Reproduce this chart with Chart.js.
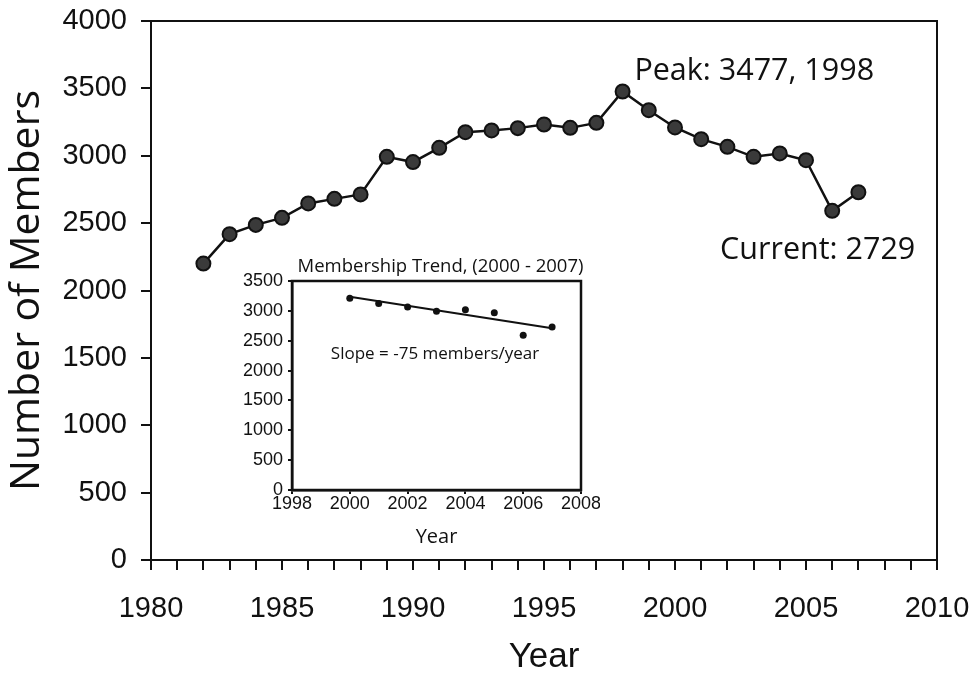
<!DOCTYPE html>
<html lang="en">
<head>
  <meta charset="UTF-8" />
  <title>Number of Members by Year</title>
  <script src="https://cdn.jsdelivr.net/npm/chart.js"></script>
  <style>
    body { margin: 0; background: #fff; }
    #wrap { position: relative; width: 974px; height: 674px; }
    #inset { position: absolute; left: 230px; top: 255px; }
  </style>
</head>
<body>
  <div id="wrap">
    <canvas id="mainChart" width="974" height="674"></canvas>
    <canvas id="inset" width="370" height="300"></canvas>
  </div>

  <script>
    // values
    const years = [1982, 1983, 1984, 1985, 1986, 1987, 1988, 1989, 1990, 1991, 1992, 1993, 1994,
                   1995, 1996, 1997, 1998, 1999, 2000, 2001, 2002, 2003, 2004, 2005, 2006, 2007];
    const members = [2200, 2418, 2487, 2539, 2646, 2680, 2713, 2992, 2953, 3059, 3175, 3188, 3205,
                     3232, 3207, 3244, 3477, 3338, 3210, 3123, 3066, 2992, 3017, 2967, 2591, 2729];

    const trendYears = [2000, 2001, 2002, 2003, 2004, 2005, 2006, 2007];
    const trendMembers = [3210, 3123, 3066, 2992, 3017, 2967, 2591, 2729];
    const fitYears = [2000, 2007];
    const fitMembers = [3235, 2710];

    const notes = [
      { text: 'Peak: 3477, 1998', x: 1998.45, y: 3628 },
      { text: 'Current: 2729', x: 2001.72, y: 2300 }
    ];

    const sans = '"Liberation Sans", Arial, sans-serif';
    const myriad = '"Open Sans", "Noto Sans", sans-serif';

    // box round the plot area + text notes
    const framePlugin = {
      id: 'frame',
      afterDraw(chart, args, opts) {
        const { ctx, chartArea: a, scales } = chart;
        ctx.save();
        ctx.strokeStyle = '#111';
        ctx.lineWidth = opts.width;
        ctx.strokeRect(a.left, a.top, a.right - a.left, a.bottom - a.top);
        ctx.fillStyle = '#111';
        ctx.textBaseline = 'middle';
        (opts.notes || []).forEach(n => {
          ctx.font = n.font;
          ctx.textAlign = n.align || 'left';
          ctx.fillText(n.text, scales.x.getPixelForValue(n.x), scales.y.getPixelForValue(n.y));
        });
        if (opts.title) {
          ctx.font = opts.titleFont;
          ctx.textAlign = 'center';
          ctx.fillText(opts.title, (a.left + a.right) / 2 + 4, a.top - 14);
        }
        ctx.restore();
      }
    };

    Chart.defaults.color = '#111';

    new Chart(document.getElementById('mainChart'), {
      type: 'line',
      data: {
        datasets: [{
          data: years.map((y, i) => ({ x: y, y: members[i] })),
          borderColor: '#111',
          borderWidth: 2.5,
          pointRadius: 7,
          pointBackgroundColor: '#3a3a3a',
          pointBorderColor: '#111',
          pointBorderWidth: 2,
          tension: 0
        }]
      },
      options: {
        responsive: false,
        animation: false,
        layout: { padding: { top: 21, right: 37, left: 0, bottom: 0 } },
        plugins: {
          legend: { display: false },
          tooltip: { enabled: false },
          frame: {
            width: 2,
            notes: notes.map(n => ({ ...n, font: '30.5px ' + myriad }))
          }
        },
        scales: {
          x: {
            type: 'linear',
            min: 1980,
            max: 2010,
            afterFit(s) { s.height = 114; s.paddingLeft = 0; s.paddingRight = 0; },
            ticks: {
              stepSize: 1,
              autoSkip: false,
              maxRotation: 0,
              padding: 22,
              font: { size: 29, family: sans },
              callback: v => (v % 5 === 0 ? String(v) : '')
            },
            grid: { drawOnChartArea: false, tickLength: 10, color: '#111', lineWidth: 2 },
            border: { color: '#111', width: 2 },
            title: { display: true, text: 'Year', font: { size: 35, family: sans }, padding: { top: 0, bottom: -4 } }
          },
          y: {
            min: 0,
            max: 4000,
            afterFit(s) { s.width = 151; s.paddingTop = 0; s.paddingBottom = 0; },
            ticks: {
              stepSize: 500,
              padding: 14,
              font: { size: 29, family: sans },
              callback: v => String(v)
            },
            grid: { drawOnChartArea: false, tickLength: 10, color: '#111', lineWidth: 2 },
            border: { color: '#111', width: 2 },
            title: { display: true, text: 'Number of Members', font: { size: 41, family: myriad }, padding: { top: 3, bottom: 0 } }
          }
        }
      },
      plugins: [framePlugin]
    });

    new Chart(document.getElementById('inset'), {
      type: 'line',
      data: {
        datasets: [{
          data: trendYears.map((y, i) => ({ x: y, y: trendMembers[i] })),
          showLine: false,
          pointRadius: 3.5,
          pointBackgroundColor: '#111',
          pointBorderWidth: 0
        }, {
          data: fitYears.map((y, i) => ({ x: y, y: fitMembers[i] })),
          borderColor: '#111',
          borderWidth: 2,
          pointRadius: 0
        }]
      },
      options: {
        responsive: false,
        animation: false,
        layout: { padding: { top: 26, right: 19, left: 0, bottom: 0 } },
        plugins: {
          legend: { display: false },
          tooltip: { enabled: false },
          frame: {
            width: 2.5,
            title: 'Membership Trend, (2000 - 2007)',
            titleFont: '18.5px ' + myriad,
            notes: [{ text: 'Slope = -75 members/year', x: 2002.95, y: 2280, align: 'center', font: '17px ' + myriad }]
          }
        },
        scales: {
          x: {
            type: 'linear',
            min: 1998,
            max: 2008,
            afterFit(s) { s.height = 65; s.paddingLeft = 0; s.paddingRight = 0; },
            ticks: {
              stepSize: 2,
              maxRotation: 0,
              padding: -1,
              font: { size: 18, family: sans },
              callback: v => String(v)
            },
            grid: { drawOnChartArea: false, tickLength: 4, color: '#111', lineWidth: 2 },
            border: { color: '#111', width: 2.5 },
            title: { display: true, text: 'Year', font: { size: 20, family: myriad }, padding: { top: 0, bottom: 6 } }
          },
          y: {
            min: 0,
            max: 3500,
            afterFit(s) { s.width = 62; s.paddingTop = 0; s.paddingBottom = 0; },
            ticks: {
              stepSize: 500,
              padding: 5,
              font: { size: 18, family: sans },
              callback: v => String(v)
            },
            grid: { drawOnChartArea: false, tickLength: 4, color: '#111', lineWidth: 2 },
            border: { color: '#111', width: 2.5 }
          }
        }
      },
      plugins: [framePlugin]
    });
  </script>
</body>
</html>
